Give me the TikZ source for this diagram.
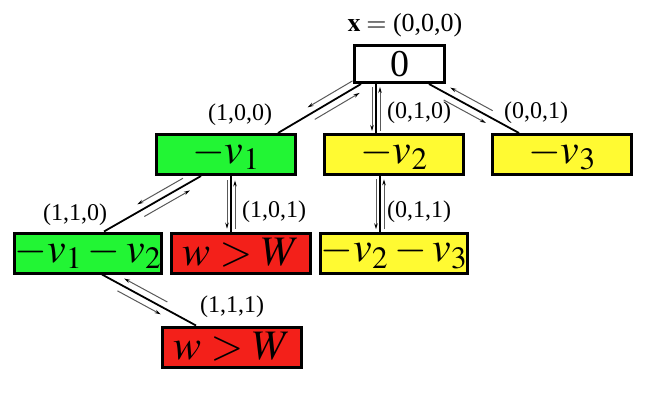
\documentclass[tikz,border=0pt]{standalone}
\usepackage{mathptmx}
\usepackage{fontspec}
\setmainfont{Liberation Serif}
\usetikzlibrary{arrows.meta,calc}

\definecolor{setgreen}{RGB}{34,245,52}
\definecolor{setyellow}{RGB}{255,250,50}
\definecolor{setred}{RGB}{243,32,26}

\tikzset{
  state/.style={draw=black, line width=3pt, inner sep=0pt,
    minimum width=139pt, minimum height=40pt,
    font=\fontsize{42}{42}\selectfont},
  tree/.style={black, line width=1.8pt},
  flow/.style={black!65, line width=1pt,
    -{Stealth[length=6pt,width=3.5pt,black]}},
  coordlab/.style={inner sep=0pt, font=\fontsize{24}{24}\selectfont},
}

% tree edge #1 -- #2 with a down arrow and an up arrow beside it
\newcommand{\twoway}[5]{%
  \draw[tree] (#1) -- (#2);
  \draw[flow] ($(#1)!#4!(#2)!#3!-90:(#2)$) -- ($(#1)!#5!(#2)!#3!-90:(#2)$);
  \draw[flow] ($(#1)!#5!(#2)!#3!90:(#2)$) -- ($(#1)!#4!(#2)!#3!90:(#2)$);
}

\begin{document}
\begin{tikzpicture}[x=1pt,y=-1pt]
  \useasboundingbox (0,0) rectangle (664,409);

  %% boxes
  \node[state, fill=white, minimum width=90pt, minimum height=37pt,
    font=\fontsize{38}{38}\selectfont] (root) at (399.5,64) {0};

  \node[state, fill=setgreen]  (v1) at (226,154.5) {$-v_1$};
  \node[state, fill=setyellow] (v2) at (394,154.5) {$-v_2$};
  \node[state, fill=setyellow] (v3) at (562,154.5) {$-v_3$};

  \node[state, fill=setgreen]  (v12) at (88,253) {$-v_1-v_2$};
  \node[state, fill=setred]    (wW1) at (241,253) {$w>W$};
  \node[state, fill=setyellow] (v23) at (394,253) {$-v_2-v_3$};

  \node[state, fill=setred]    (wW2) at (232,347) {$w>W$};

  %% edge ends
  \coordinate (e1a) at ([xshift=8pt]root.south west);
  \coordinate (e1b) at ([xshift=-19pt]v1.north east);
  \coordinate (e2a) at ([xshift=-23.5pt]root.south);
  \coordinate (e2b) at ([xshift=-18pt]v2.north);
  \coordinate (e3a) at ([xshift=-17pt]root.south east);
  \coordinate (e3b) at ([xshift=-43pt]v3.north);
  \coordinate (e4a) at ([xshift=-25pt]v1.south);
  \coordinate (e4b) at ([xshift=16pt]v12.north);
  \coordinate (e5a) at ([xshift=5pt]v1.south);
  \coordinate (e5b) at ([xshift=-10pt]wW1.north);
  \coordinate (e6a) at ([xshift=-14pt]v2.south);
  \coordinate (e6b) at ([xshift=-14pt]v23.north);
  \coordinate (e7a) at ([xshift=14pt]v12.south);
  \coordinate (e7b) at ([xshift=-36pt]wW2.north);

  %% edges
  \twoway{e1a}{e1b}{7pt}{0.06}{0.6}
  \twoway{e2a}{e2b}{4pt}{0.06}{0.96}
  \twoway{e3a}{e3b}{7pt}{0.2}{0.67}
  \twoway{e4a}{e4b}{7pt}{0.15}{0.62}
  \twoway{e5a}{e5b}{4pt}{0.08}{0.95}
  \twoway{e6a}{e6b}{4pt}{0.06}{0.96}
  \twoway{e7a}{e7b}{7pt}{0.2}{0.66}

  %% labels
  \node[inner sep=0pt, font=\fontsize{26}{26}\selectfont] (xlab) at (405,25)
    {$\mathbf{x} =$ (0,0,0)};
  \node[coordlab] (l100) at (240,115) {(1,0,0)};
  \node[coordlab] (l010) at (419,113) {(0,1,0)};
  \node[coordlab] (l001) at (536,113) {(0,0,1)};
  \node[coordlab] (l110) at (75,215) {(1,1,0)};
  \node[coordlab] (l101) at (274,212) {(1,0,1)};
  \node[coordlab] (l011) at (419,212) {(0,1,1)};
  \node[coordlab] (l111) at (232,307) {(1,1,1)};

\end{tikzpicture}
\end{document}
